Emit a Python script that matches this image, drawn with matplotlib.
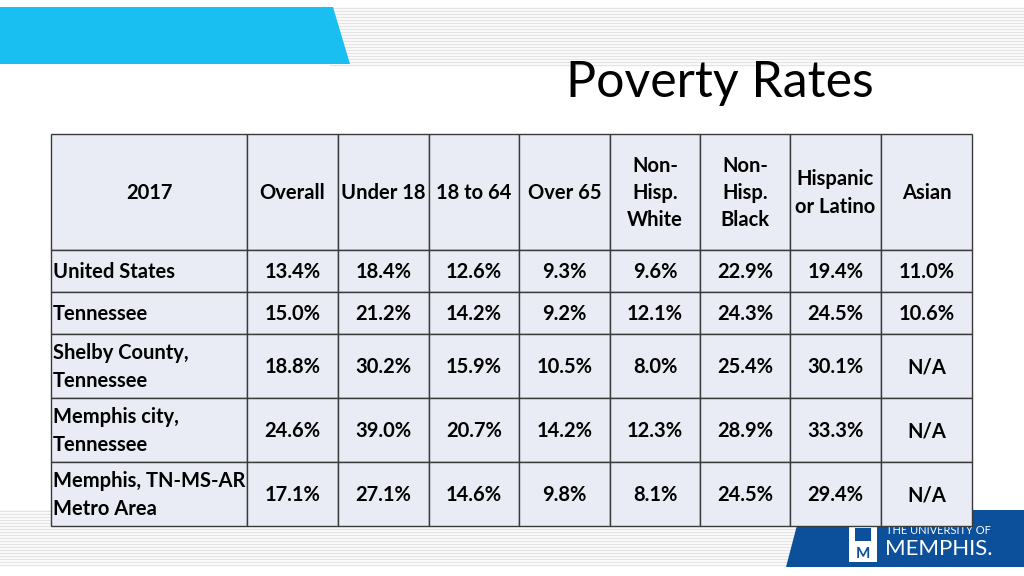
import numpy as np
import matplotlib.pyplot as plt
from matplotlib.patches import Rectangle, Polygon

#%% DATA

header = ['2017', 'Overall', 'Under 18', '18 to 64', 'Over 65',
          'Non-\nHisp.\nWhite', 'Non-\nHisp.\nBlack', 'Hispanic\nor Latino', 'Asian']
regions = ['United States', 'Tennessee', 'Shelby County,\nTennessee',
           'Memphis city,\nTennessee', 'Memphis, TN-MS-AR\nMetro Area']
overall = ['13.4%', '15.0%', '18.8%', '24.6%', '17.1%']
under18 = ['18.4%', '21.2%', '30.2%', '39.0%', '27.1%']
age18_64 = ['12.6%', '14.2%', '15.9%', '20.7%', '14.6%']
over65 = ['9.3%', '9.2%', '10.5%', '14.2%', '9.8%']
nh_white = ['9.6%', '12.1%', '8.0%', '12.3%', '8.1%']
nh_black = ['22.9%', '24.3%', '25.4%', '28.9%', '24.5%']
hispanic = ['19.4%', '24.5%', '30.1%', '33.3%', '29.4%']
asian = ['11.0%', '10.6%', 'N/A', 'N/A', 'N/A']

#%% LAYOUT (pixels)

col_edges = [51, 247, 338, 429, 519, 610, 700, 790, 881, 972]
row_edges = [134, 250, 292, 334, 398, 462, 526]

cell_color = '#E9EBF5'
edge_color = '#3A3A3A'
font = ['Lato', 'DejaVu Sans']
fs = 14.5

fig = plt.figure(figsize=(10.24, 5.76), dpi=100)
ax = fig.add_axes([0, 0, 1, 1])
ax.set_xlim(0, 1024)
ax.set_ylim(576, 0)
ax.axis('off')

# striped bands
def stripes(x0, x1, y0, y1):
    for y in np.arange(y0, y1, 3):
        ax.plot([x0, x1], [y, y], color='#E4E4E4', lw=1.0, zorder=1)

stripes(330, 1024, 8, 66)
stripes(0, 800, 511, 568)

# cyan banner top left
ax.add_patch(Polygon([[0, 7], [333, 7], [350, 64], [0, 64]], closed=True,
                     facecolor='#19BFF1', edgecolor='none', zorder=2))

# blue banner bottom right
ax.add_patch(Polygon([[801, 510], [1024, 510], [1024, 567], [786, 567]], closed=True,
                     facecolor='#0C4F9B', edgecolor='none', zorder=2))

# logo
ax.add_patch(Rectangle((849, 524), 28, 38, facecolor='white', edgecolor='none', zorder=3))
ax.add_patch(Rectangle((855, 528), 16, 13, facecolor='#0C4F9B', edgecolor='none', zorder=4))
ax.text(863, 554, 'M', color='#0C4F9B', fontsize=11, fontweight='bold', family=font,
        ha='center', va='center', zorder=5)
ax.text(886, 530, 'THE UNIVERSITY OF', color='white', fontsize=8, family=font,
        ha='left', va='center', zorder=3)
ax.text(885, 549, 'MEMPHIS.', color='white', fontsize=16, family=font,
        ha='left', va='center', zorder=3)

# title
ax.text(720, 83, 'Poverty Rates', fontsize=36, family=font, color='black',
        ha='center', va='center', zorder=3)

#%% TABLE

columns = [regions, overall, under18, age18_64, over65, nh_white, nh_black, hispanic, asian]

for j in range(len(header)):
    x0, x1 = col_edges[j], col_edges[j + 1]
    y0, y1 = row_edges[0], row_edges[1]
    ax.add_patch(Rectangle((x0, y0), x1 - x0, y1 - y0, facecolor=cell_color,
                           edgecolor=edge_color, lw=1.0, zorder=3))
    ax.text((x0 + x1) / 2, (y0 + y1) / 2 + 1, header[j], fontsize=fs, fontweight='bold',
            family=font, ha='center', va='center', linespacing=1.45, zorder=4)

for i in range(len(regions)):
    y0, y1 = row_edges[i + 1], row_edges[i + 2]
    for j, col in enumerate(columns):
        x0, x1 = col_edges[j], col_edges[j + 1]
        ax.add_patch(Rectangle((x0, y0), x1 - x0, y1 - y0, facecolor=cell_color,
                               edgecolor=edge_color, lw=1.0, zorder=3))
        if j == 0:
            ax.text(x0 + 2, (y0 + y1) / 2 + 1, col[i], fontsize=fs, fontweight='bold',
                    family=font, ha='left', va='center', linespacing=1.45, zorder=4)
        else:
            ax.text((x0 + x1) / 2, (y0 + y1) / 2 + 1, col[i], fontsize=fs, fontweight='bold',
                    family=font, ha='center', va='center', zorder=4)

fig.savefig('out.png', dpi=100)
